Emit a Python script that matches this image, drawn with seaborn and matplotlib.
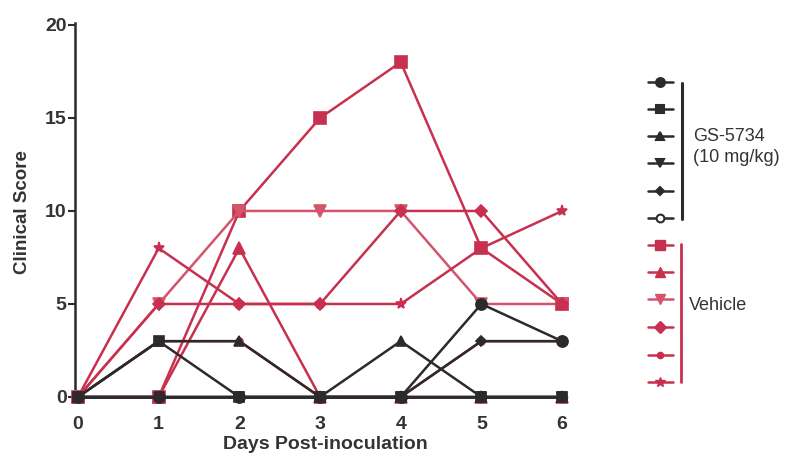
import matplotlib
matplotlib.use("Agg")
import matplotlib.pyplot as plt
import seaborn as sns
import pandas as pd
from matplotlib.lines import Line2D

# ---------------- data ----------------
days = [0, 1, 2, 3, 4, 5, 6]

gs_circle = [0, 0, 0, 0, 0, 5, 3]
gs_square = [0, 3, 0, 0, 0, 0, 0]
gs_triangle = [0, 3, 3, 0, 3, 0, 0]
gs_invtriangle = [0, 0, 0, 0, 0, 0, 0]
gs_diamond = [0, 0, 0, 0, 0, 3, 3]
gs_opencircle = [0, 0, 0, 0, 0, 0, 0]

veh_square = [0, 0, 10, 15, 18, 8, 5]
veh_triangle = [0, 0, 8, 0, 0, 0, 0]
veh_invtriangle = [0, 5, 10, 10, 10, 5, 5]
veh_diamond = [0, 5, 5, 5, 10, 10, 5]
veh_circle = [0, 3, 3, 0, 0, 3, 3]
veh_star = [0, 8, 5, 5, 5, 8, 10]

group_labels = ["GS-5734\n(10 mg/kg)", "Vehicle"]
x_label = "Days Post-inoculation"
y_label = "Clinical Score"
y_ticks = [0, 5, 10, 15, 20]

# ---------------- style ----------------
BLACK = "#2b2b2b"
RED = "#c8304f"
PINK = "#d4546c"

sns.set_style("white")
plt.rcParams["font.family"] = ["Liberation Sans", "DejaVu Sans"]

W, H = 803, 454
fig = plt.figure(figsize=(W / 100, H / 100), dpi=100)
ax = fig.add_axes([75 / W, 1 - 400.7 / H, (575 - 75) / W, (400.7 - 23.1) / H])

red_series = [
    (veh_square, "s", RED, 8.5, "full"),
    (veh_triangle, "^", RED, 8, "full"),
    (veh_invtriangle, "v", PINK, 8.5, "full"),
    (veh_diamond, "D", RED, 6.5, "full"),
    (veh_circle, "o", RED, 5, "full"),
    (veh_star, "*", RED, 8, "full"),
]
black_series = [
    (gs_invtriangle, "v", BLACK, 7, "full"),
    (gs_opencircle, "o", BLACK, 7, "none"),
    (gs_square, "s", BLACK, 7, "full"),
    (gs_diamond, "D", BLACK, 5, "full"),
    (gs_triangle, "^", BLACK, 7.5, "full"),
    (gs_circle, "o", BLACK, 8, "full"),
]

for vals, mk, col, ms, fill in red_series + black_series:
    df = pd.DataFrame({"day": days, "score": vals})
    sns.lineplot(data=df, x="day", y="score", ax=ax, color=col, marker=mk,
                 markersize=ms, linewidth=1.8, markeredgecolor=col,
                 markerfacecolor=(col if fill == "full" else "white"),
                 markeredgewidth=1.2, clip_on=False, zorder=3)

ax.set_xlim(-0.037, 6.16)
ax.set_ylim(-0.2, 20.1)
ax.set_yticks(y_ticks)
ax.set_xticks(days)
ax.set_yticklabels([str(t) for t in y_ticks], fontsize=14, fontweight="bold", color="#333333")
ax.set_xticklabels([str(d) for d in days], fontsize=14, fontweight="bold", color="#333333")
ax.tick_params(axis="y", direction="out", length=5, width=1.5, color=BLACK, pad=1, left=True)
ax.tick_params(axis="x", length=0, pad=11)

for s in ["top", "right", "bottom"]:
    ax.spines[s].set_visible(False)
ax.spines["left"].set_color(BLACK)
ax.spines["left"].set_linewidth(1.8)

ax.set_xlabel(x_label, fontsize=14, fontweight="bold", color="#333333", labelpad=2)
ax.set_ylabel(y_label, fontsize=13.5, fontweight="bold", color="#333333", labelpad=10)

# ---------------- legend (manual) ----------------
def fx(px):
    return px / W

def fy(py):
    return 1 - py / H

leg_black_y = [82, 109, 136, 163, 191, 218]
leg_red_y = [245, 272, 299, 327, 355, 382]
for (vals, mk, col, ms, fill), yy in zip(
        [black_series[5], black_series[2], black_series[4], black_series[0],
         black_series[3], black_series[1]], leg_black_y):
    fig.add_artist(Line2D([fx(648), fx(673)], [fy(yy), fy(yy)], color=col, lw=1.8,
                          transform=fig.transFigure))
    fig.add_artist(Line2D([fx(660)], [fy(yy)], marker=mk, markersize=ms * 0.8,
                          color=col, markerfacecolor=(col if fill == "full" else "white"),
                          markeredgewidth=1.5, transform=fig.transFigure))
for (vals, mk, col, ms, fill), yy in zip(red_series, leg_red_y):
    fig.add_artist(Line2D([fx(648), fx(673)], [fy(yy), fy(yy)], color=col, lw=1.8,
                          transform=fig.transFigure))
    fig.add_artist(Line2D([fx(660)], [fy(yy)], marker=mk, markersize=ms * 0.9,
                          color=col, markerfacecolor=col,
                          transform=fig.transFigure))

fig.add_artist(Line2D([fx(682), fx(682)], [fy(83), fy(219)], color=BLACK, lw=2.2,
                      transform=fig.transFigure))
fig.add_artist(Line2D([fx(681), fx(681)], [fy(244), fy(382)], color=RED, lw=2.0,
                      transform=fig.transFigure))

fig.text(fx(693), fy(147), group_labels[0], fontsize=13, color="#333333",
         va="center", ha="left", linespacing=1.25)
fig.text(fx(689), fy(305), group_labels[1], fontsize=13, color="#333333",
         va="center", ha="left")

fig.savefig("out.png", dpi=100, facecolor="white")
